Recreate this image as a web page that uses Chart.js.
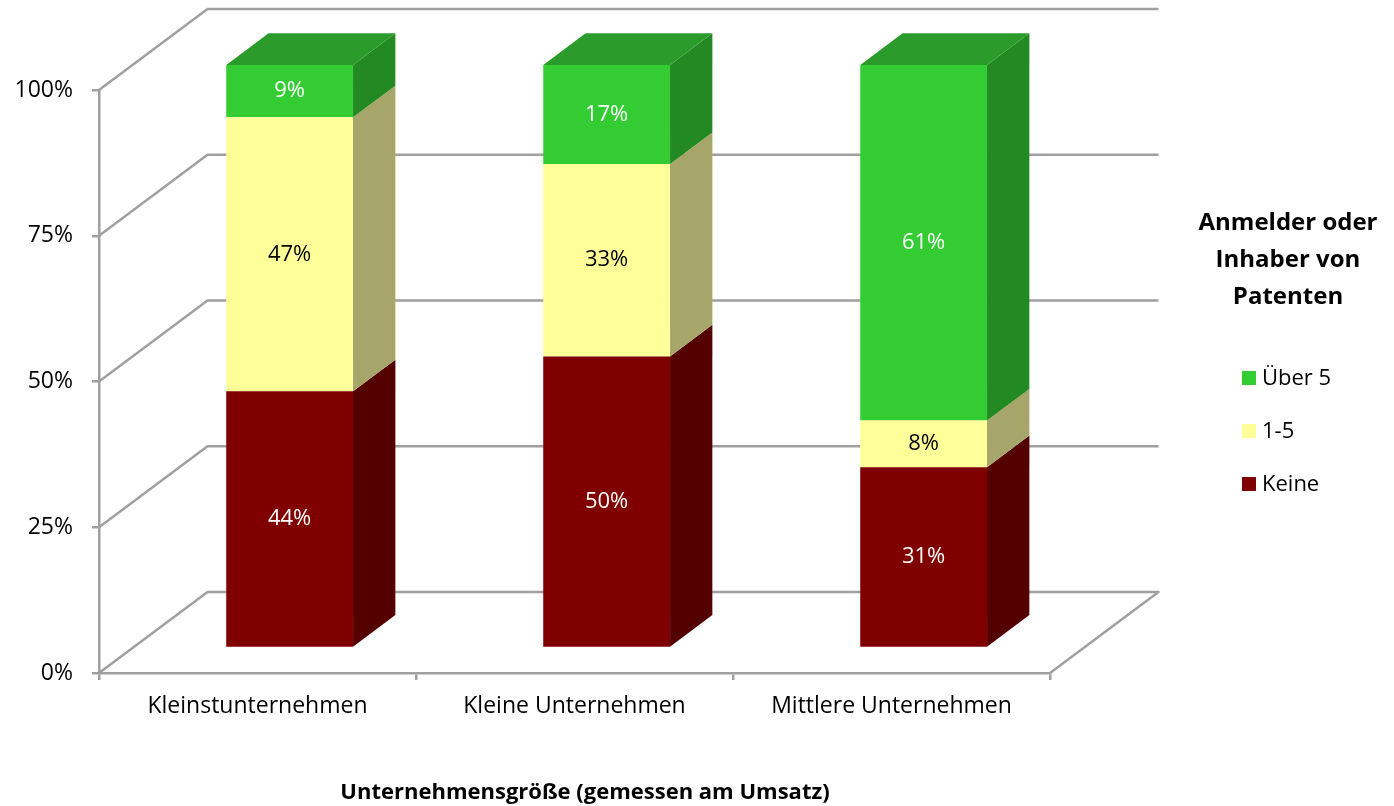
<!DOCTYPE html>
<html>
<head>
<meta charset="utf-8">
<script src="https://cdn.jsdelivr.net/npm/chart.js@4"></script>
<style>
  html, body { margin: 0; padding: 0; background: #fff; }
  #wrap { width: 1394px; height: 806px; }
</style>
</head>
<body>
<div id="wrap"><canvas id="chart" width="1394" height="806"></canvas></div>
<script>
// data
const categories = ["Kleinstunternehmen", "Kleine Unternehmen", "Mittlere Unternehmen"];
const keine = [44, 50, 31];
const einsBisFuenf = [47, 33, 8];
const ueberFuenf = [9, 17, 61];
const yTicks = [0, 25, 50, 75, 100];
const seriesNames = ["Keine", "1-5", "Über 5"];
const legendTitle = ["Anmelder oder", "Inhaber von", "Patenten"];
const xTitle = "Unternehmensgröße (gemessen am Umsatz)";

// colours: front, side, top, label
const front = ["#800000", "#FFFF99", "#33CC33"];
const side = ["#540000", "#A6A66B", "#238A23"];
const top3d = ["#6A0000", "#D9D982", "#2B9B2B"];
const labelColor = ["#ffffff", "#000000", "#ffffff"];

const FONT = "'Open Sans', sans-serif";
const GRID = "#a0a0a0";

// depth of the 3D box (front plane -> back wall)
const DX = 108.5, DY = -81;
const BAR_FRONT = 0.31, BAR_DEPTH = 0.39;

// walls, floor and the 3D bar faces
const box3d = {
  id: "box3d",
  beforeDatasetsDraw(chart) {
    const ctx = chart.ctx;
    const a = chart.chartArea;
    const y = chart.scales.y;
    ctx.save();
    ctx.strokeStyle = GRID;
    ctx.lineWidth = 2.5;
    ctx.lineJoin = "round";
    yTicks.forEach(v => {
      const py = y.getPixelForValue(v);
      ctx.beginPath();
      ctx.moveTo(a.left, py);
      ctx.lineTo(a.left + DX, py + DY);
      ctx.lineTo(a.right + DX, py + DY);
      if (v === 0) ctx.lineTo(a.right, py);
      ctx.stroke();
    });
    ctx.restore();
    // front faces are drawn by chart.js, pushed into the depth
    ctx.save();
    ctx.translate(BAR_FRONT * DX - 1.5, BAR_FRONT * DY);
  },
  afterDatasetsDraw(chart) {
    const ctx = chart.ctx;
    ctx.restore();
    const ox = BAR_FRONT * DX - 1.5, oy = BAR_FRONT * DY;
    const bx = BAR_DEPTH * DX, by = BAR_DEPTH * DY;
    const n = chart.data.labels.length;
    for (let i = 0; i < n; i++) {
      let topIdx = -1;
      chart.data.datasets.forEach((ds, d) => {
        const el = chart.getDatasetMeta(d).data[i];
        if (!ds.data[i]) return;
        topIdx = d;
        const x1 = el.x + el.width / 2 + ox;
        const t = el.y + oy, b = el.base + oy;
        ctx.fillStyle = side[d];
        ctx.beginPath();
        ctx.moveTo(x1, t);
        ctx.lineTo(x1 + bx, t + by);
        ctx.lineTo(x1 + bx, b + by);
        ctx.lineTo(x1, b);
        ctx.closePath();
        ctx.fill();
      });
      if (topIdx >= 0) {
        const el = chart.getDatasetMeta(topIdx).data[i];
        const x0 = el.x - el.width / 2 + ox, x1 = el.x + el.width / 2 + ox;
        const t = el.y + oy;
        ctx.fillStyle = top3d[topIdx];
        ctx.beginPath();
        ctx.moveTo(x0, t);
        ctx.lineTo(x1, t);
        ctx.lineTo(x1 + bx, t + by);
        ctx.lineTo(x0 + bx, t + by);
        ctx.closePath();
        ctx.fill();
      }
    }
    // value labels on the front faces
    ctx.save();
    ctx.font = "22px " + FONT;
    ctx.textAlign = "center";
    ctx.textBaseline = "middle";
    chart.data.datasets.forEach((ds, d) => {
      chart.getDatasetMeta(d).data.forEach((el, i) => {
        if (!ds.data[i]) return;
        ctx.fillStyle = labelColor[d];
        ctx.fillText(ds.data[i] + "%", el.x + ox, (el.y + el.base) / 2 + oy);
      });
    });
    ctx.restore();
  },
  afterDraw(chart) {
    const ctx = chart.ctx;
    ctx.save();
    ctx.fillStyle = "#000";
    ctx.textBaseline = "middle";
    // axis title
    ctx.font = "bold 22px " + FONT;
    ctx.textAlign = "center";
    ctx.fillText(xTitle, 585, 793);
    // legend
    ctx.font = "bold 24px " + FONT;
    legendTitle.forEach((line, k) => ctx.fillText(line, 1288, 223 + k * 37));
    ctx.font = "22px " + FONT;
    ctx.textAlign = "left";
    const order = chart.data.datasets.map((ds, d) => d).reverse();
    order.forEach((d, k) => {
      const cy = 378 + k * 53;
      ctx.fillStyle = front[d];
      ctx.fillRect(1242, cy - 7, 14, 14);
      ctx.fillStyle = "#000";
      ctx.fillText(chart.data.datasets[d].label, 1262, cy + 1);
    });
    ctx.restore();
  }
};

const series = [keine, einsBisFuenf, ueberFuenf];

new Chart(document.getElementById("chart"), {
  type: "bar",
  data: {
    labels: categories,
    datasets: series.map((vals, d) => ({
      label: seriesNames[d],
      data: vals,
      backgroundColor: front[d],
      borderWidth: 0,
      barPercentage: 0.4,
      categoryPercentage: 1,
      clip: false
    }))
  },
  options: {
    responsive: false,
    animation: false,
    layout: { padding: { left: 0, right: 344, top: 90, bottom: 0 } },
    plugins: { legend: { display: false }, tooltip: { enabled: false } },
    scales: {
      x: {
        stacked: true,
        afterFit: s => { s.height = 133; },
        border: { color: GRID, width: 2.5 },
        grid: { drawOnChartArea: false, color: GRID, lineWidth: 2.5, tickLength: 7, offset: true },
        ticks: { color: "#000", font: { family: FONT, size: 23 }, padding: 13, maxRotation: 0 }
      },
      y: {
        stacked: true,
        min: 0,
        max: 100,
        afterFit: s => { s.width = 99; },
        afterBuildTicks: s => { s.ticks = yTicks.map(v => ({ value: v })); },
        border: { color: GRID, width: 2.5 },
        grid: { drawOnChartArea: false, color: GRID, lineWidth: 2.5, tickLength: 7 },
        ticks: { color: "#000", font: { family: FONT, size: 23 }, padding: 19, callback: v => v + "%" }
      }
    }
  },
  plugins: [box3d]
});
</script>
</body>
</html>
